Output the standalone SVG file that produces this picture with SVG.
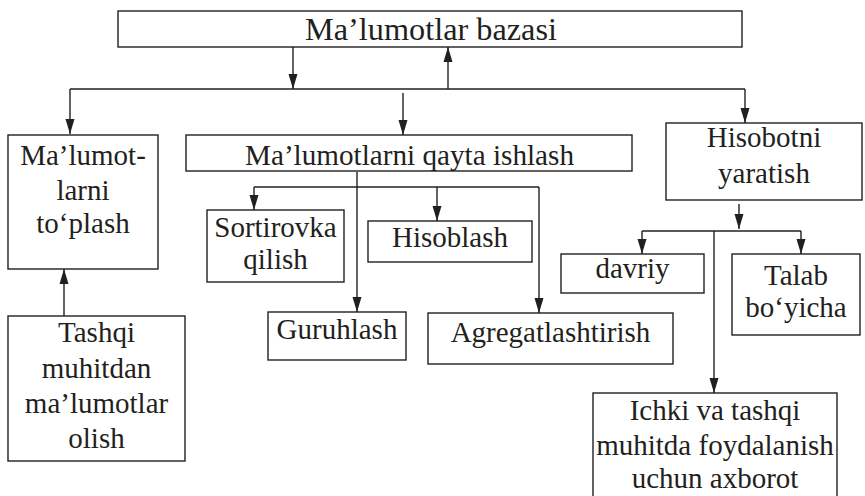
<svg xmlns="http://www.w3.org/2000/svg" width="865" height="496" viewBox="0 0 865 496">
<defs>
<marker id="ah" markerUnits="userSpaceOnUse" markerWidth="15" markerHeight="10" refX="15" refY="5" orient="auto" viewBox="0 0 15 10">
<path d="M0,0.5 L15,5 L0,9.5 z" fill="#231f20"/>
</marker>
<style>
rect{fill:#fff;stroke:#231f20;stroke-width:1.4}
text{font-size:29px;fill:#231f20;text-anchor:middle}
.c line{stroke:#231f20;stroke-width:1.4;fill:none}
.a{marker-end:url(#ah)}
</style>
</defs>
<rect x="0" y="0" width="865" height="496" style="fill:#fff;stroke:none"/>
<g class="c" id="connectors">
<line x1="293" y1="47" x2="293" y2="89" class="a"/>
<line x1="448" y1="89" x2="448" y2="47" class="a"/>
<line x1="70" y1="89" x2="745" y2="89"/>
<line x1="70" y1="89" x2="70" y2="134" class="a"/>
<line x1="403" y1="93" x2="403" y2="135" class="a"/>
<line x1="745" y1="89" x2="745" y2="123" class="a"/>
<line x1="64" y1="316" x2="64" y2="269" class="a"/>
<line x1="254" y1="187" x2="539" y2="187"/>
<line x1="254" y1="187" x2="254" y2="210" class="a"/>
<line x1="357" y1="172" x2="357" y2="312" class="a"/>
<line x1="437" y1="187" x2="437" y2="221" class="a"/>
<line x1="539" y1="187" x2="539" y2="313" class="a"/>
<line x1="739" y1="204" x2="739" y2="229" class="a"/>
<line x1="642" y1="231" x2="801" y2="231"/>
<line x1="642" y1="231" x2="642" y2="254" class="a"/>
<line x1="801" y1="231" x2="801" y2="254" class="a"/>
<line x1="714" y1="231" x2="714" y2="393" class="a"/>
</g>
<g font-family="Liberation Serif, DejaVu Serif, serif">
<g id="n-baza">
<rect x="118" y="11" width="624" height="36"/>
<text x="431" y="40" style="font-size:31px" textLength="252" lengthAdjust="spacingAndGlyphs">Ma’lumotlar bazasi</text>
</g>
<g id="n-toplash">
<rect x="8" y="135" width="150" height="134"/>
<text x="83" y="165">Ma’lumot-</text>
<text x="83" y="200">larni</text>
<text x="83" y="233">to‘plash</text>
</g>
<g id="n-qayta">
<rect x="186" y="135" width="446" height="36"/>
<text x="409.5" y="165" textLength="329" lengthAdjust="spacingAndGlyphs">Ma’lumotlarni qayta ishlash</text>
</g>
<g id="n-hisobot">
<rect x="666" y="123" width="196" height="77"/>
<text x="764" y="147">Hisobotni</text>
<text x="764" y="183">yaratish</text>
</g>
<g id="n-tashqi">
<rect x="8" y="316" width="177" height="145"/>
<text x="96.5" y="342">Tashqi</text>
<text x="96.5" y="378">muhitdan</text>
<text x="96.5" y="413">ma’lumotlar</text>
<text x="96.5" y="448">olish</text>
</g>
<g id="n-sort">
<rect x="207" y="210" width="137" height="72"/>
<text x="275.5" y="237">Sortirovka</text>
<text x="275.5" y="269">qilish</text>
</g>
<g id="n-hisoblash">
<rect x="368" y="221" width="164" height="41"/>
<text x="450" y="247">Hisoblash</text>
</g>
<g id="n-guruh">
<rect x="268" y="312" width="138" height="48"/>
<text x="337" y="339">Guruhlash</text>
</g>
<g id="n-agreg">
<rect x="428" y="313" width="245" height="51"/>
<text x="550.5" y="342">Agregatlashtirish</text>
</g>
<g id="n-davriy">
<rect x="561" y="254" width="143" height="39"/>
<text x="632.5" y="278">davriy</text>
</g>
<g id="n-talab">
<rect x="732" y="254" width="128" height="81"/>
<text x="796" y="285">Talab</text>
<text x="796" y="317">bo‘yicha</text>
</g>
<g id="n-ichki">
<rect x="593" y="393" width="244" height="110"/>
<text x="715" y="420">Ichki va tashqi</text>
<text x="715" y="455">muhitda foydalanish</text>
<text x="715" y="488">uchun axborot</text>
</g>
</g>
</svg>
